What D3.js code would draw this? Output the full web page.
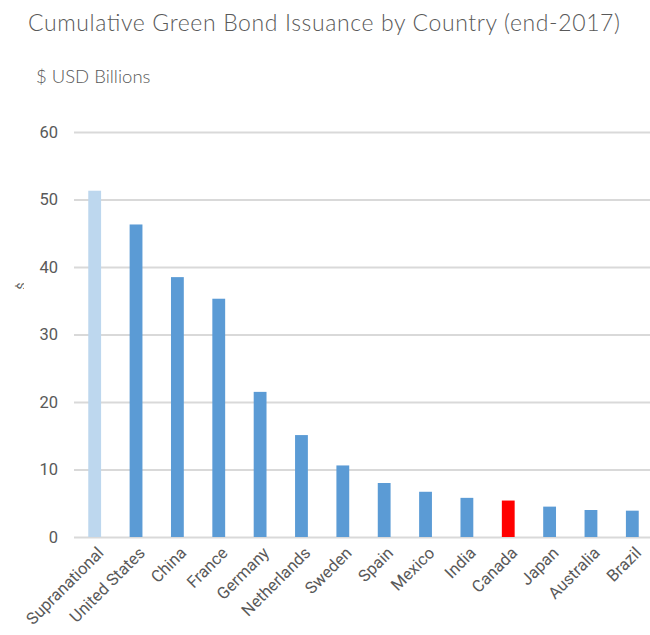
<!DOCTYPE html>
<html>
<head>
<meta charset="utf-8">
<script src="https://cdn.jsdelivr.net/npm/d3@7"></script>
<style>
  body { margin: 0; background: #fff; }
  svg { display: block; }
</style>
</head>
<body>
<div id="chart"></div>
<script>
// values
const countries = ["Supranational", "United States", "China", "France", "Germany", "Netherlands",
  "Sweden", "Spain", "Mexico", "India", "Canada", "Japan", "Australia", "Brazil"]
const issuance = [51.3, 46.3, 38.5, 35.3, 21.5, 15.1, 10.6, 8.0, 6.7, 5.8, 5.4, 4.5, 4.0, 3.9]
const yTicks = [0, 10, 20, 30, 40, 50, 60]

const W = 650, H = 635
const svg = d3.select("#chart").append("svg")
  .attr("width", W).attr("height", H)

const x = d3.scaleBand().domain(countries).range([74, 653]).paddingInner(0.69).paddingOuter(0.345)
const y = d3.scaleLinear().domain([0, 60]).range([537, 132])

const barColor = d => d === "Supranational" ? "#bdd7ee" : d === "Canada" ? "#ff0000" : "#5b9bd5"

// title + unit
svg.append("text")
  .attr("x", 324).attr("y", 31)
  .attr("text-anchor", "middle")
  .attr("textLength", 592)
  .style("font-family", "Lato").style("font-weight", 300)
  .style("font-size", "23px").style("fill", "#595959")
  .text("Cumulative Green Bond Issuance by Country (end-2017)")

svg.append("text")
  .attr("x", 36).attr("y", 83)
  .style("font-family", "Lato").style("font-weight", 300)
  .style("font-size", "18.5px").style("fill", "#595959")
  .text("$ USD Billions")

// clipped-off axis title fragment
svg.append("clipPath").attr("id", "clipL")
  .append("rect").attr("x", 14).attr("y", 270).attr("width", 10).attr("height", 30)
svg.append("g").attr("clip-path", "url(#clipL)")
  .append("text")
  .attr("transform", "translate(26,286) rotate(-90)")
  .attr("text-anchor", "middle")
  .style("font-family", "Roboto").style("font-size", "13px").style("fill", "#595959")
  .text("$")

// gridlines
const yAxis = svg.append("g")
  .attr("transform", "translate(74,0)")
  .call(d3.axisLeft(y).tickValues(yTicks).tickSize(-(W - 74)).tickPadding(16))
yAxis.select(".domain").remove()
yAxis.selectAll(".tick line").attr("stroke", "#d9d9d9").attr("stroke-width", 2)
yAxis.selectAll(".tick text")
  .style("font-family", "Roboto").style("font-size", "16.5px").style("fill", "#595959")

// bars
svg.selectAll("rect.bar")
  .data(countries)
  .join("rect")
  .attr("class", "bar")
  .attr("x", d => x(d))
  .attr("width", x.bandwidth())
  .attr("y", (d, i) => y(issuance[i]))
  .attr("height", (d, i) => y(0) - y(issuance[i]))
  .attr("fill", barColor)

// x labels
const xAxis = svg.append("g")
  .attr("transform", "translate(0,537)")
  .call(d3.axisBottom(x).tickSize(0).tickPadding(0))
xAxis.select(".domain").remove()
xAxis.selectAll(".tick text")
  .attr("text-anchor", "end")
  .attr("dy", 0)
  .attr("transform", "translate(10,17) rotate(-45)")
  .style("font-family", "Roboto").style("font-size", "16.5px").style("fill", "#595959")
</script>
</body>
</html>
